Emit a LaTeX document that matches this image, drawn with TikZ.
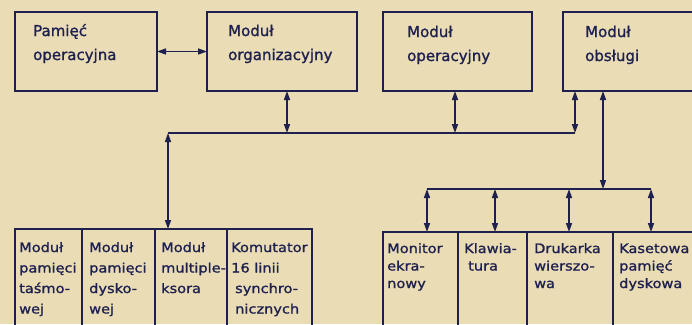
\documentclass[tikz,border=0pt]{standalone}
\usepackage{fontspec}
\setmainfont{DejaVu Sans}[FakeBold=1.2]
\newfontfamily\widefont{DejaVu Sans}[FakeStretch=1.12,FakeBold=1.2]
\usetikzlibrary{arrows.meta}
\definecolor{paper}{HTML}{EADCB4}
\definecolor{ink}{HTML}{1E2150}
\begin{document}
\begin{tikzpicture}[x=1pt,y=-1pt,
  box/.style={draw=ink,line width=2pt,anchor=north west,inner sep=0pt,outer sep=0pt,minimum height=79pt},
  lowbox/.style={draw=ink,line width=2pt,anchor=north west,inner sep=0pt,outer sep=0pt,minimum height=110pt},
  ttext/.style={anchor=base west,align=left,inner sep=0pt,text=ink,font=\fontsize{15}{24}\selectfont},
  ltext/.style={anchor=base west,align=left,inner sep=0pt,text=ink,font=\widefont\fontsize{13}{20.5}\selectfont},
  rtext/.style={anchor=base west,align=left,inner sep=0pt,text=ink,font=\widefont\fontsize{13}{17.5}\selectfont},
  conn/.style={draw=ink,line width=1.5pt},
  dbl/.style={conn,{Triangle[length=9pt,width=6pt]}-{Triangle[length=9pt,width=6pt]}}
]
\fill[paper] (0,0) rectangle (692,324);
\useasboundingbox (0,0) rectangle (692,324);
\clip (0,0) rectangle (692,324);

% top boxes
\node[box,minimum width=142pt] (pam) at (15,12) {};
\node[box,minimum width=150pt] (org) at (207,12) {};
\node[box,minimum width=149pt] (ope) at (383,12) {};
\node[box,minimum width=140pt] (obs) at (563,12) {};
% base anchor = last line baseline
\node[ttext] (tpam) at (33,60) {Pamięć\\operacyjna};
\node[ttext] (torg) at (228,60) {Moduł\\organizacyjny};
\node[ttext] (tope) at (407,61) {Moduł\\operacyjny};
\node[ttext] (tobs) at (585,61) {Moduł\\obsługi};

% bottom-left boxes
\node[lowbox,minimum width=67pt] (m1) at (15,229) {};
\node[lowbox,minimum width=73pt] (m2) at (82,229) {};
\node[lowbox,minimum width=72pt] (m3) at (155,229) {};
\node[lowbox,minimum width=85pt] (m4) at (227,229) {};
\node[ltext] (tm1) at (19,313.5) {Moduł\\pamięci\\taśmo-\\wej};
\node[ltext] (tm2) at (89,313.5) {Moduł\\pamięci\\dysko-\\wej};
\node[ltext] (tm3) at (161,293) {Moduł\\multiple-\\ksora};
\node[ltext] (tm4) at (231,313.5) {Komutator\\16 linii\\\hspace{4pt}synchro-\\\hspace{4pt}nicznych};

% bottom-right boxes
\node[lowbox,minimum width=75pt] (r1) at (383,232) {};
\node[lowbox,minimum width=69pt] (r2) at (458,232) {};
\node[lowbox,minimum width=86pt] (r3) at (527,232) {};
\node[lowbox,minimum width=90pt] (r4) at (613,232) {};
\node[rtext] (tr1) at (387,288) {Monitor\\ekra-\\nowy};
\node[rtext] (tr2) at (464,270.5) {Klawia-\\\hspace{4pt}tura};
\node[rtext] (tr3) at (534,288) {Drukarka\\wierszo-\\wa};
\node[rtext] (tr4) at (619,288) {Kasetowa\\pamięć\\dyskowa};

% buses
\coordinate (b1L) at (168,133);
\coordinate (b1R) at (575,133);
\coordinate (j1) at (287,133);
\coordinate (j2) at (455,133);
\coordinate (b2L) at (427,189);
\coordinate (b2R) at (651,189);
\coordinate (d2) at (495,189);
\coordinate (d3) at (569,189);
\coordinate (j4) at (603,189);
\draw[conn] (b1L) -- (b1R);
\draw[conn] (b2L) -- (b2R);

\draw[dbl] (pam.east) -- (org.west);
\draw[dbl] (j1 |- org.south) -- (j1);
\draw[dbl] (j2 |- ope.south) -- (j2);
\draw[dbl] (b1R |- obs.south) -- (b1R);
\draw[dbl] (j4 |- obs.south) -- (j4);
\draw[dbl] (b1L) -- (b1L |- m3.north);
\draw[dbl] (b2L) -- (b2L |- r1.north);
\draw[dbl] (d2) -- (d2 |- r2.north);
\draw[dbl] (d3) -- (d3 |- r3.north);
\draw[dbl] (b2R) -- (b2R |- r4.north);
\end{tikzpicture}
\end{document}
